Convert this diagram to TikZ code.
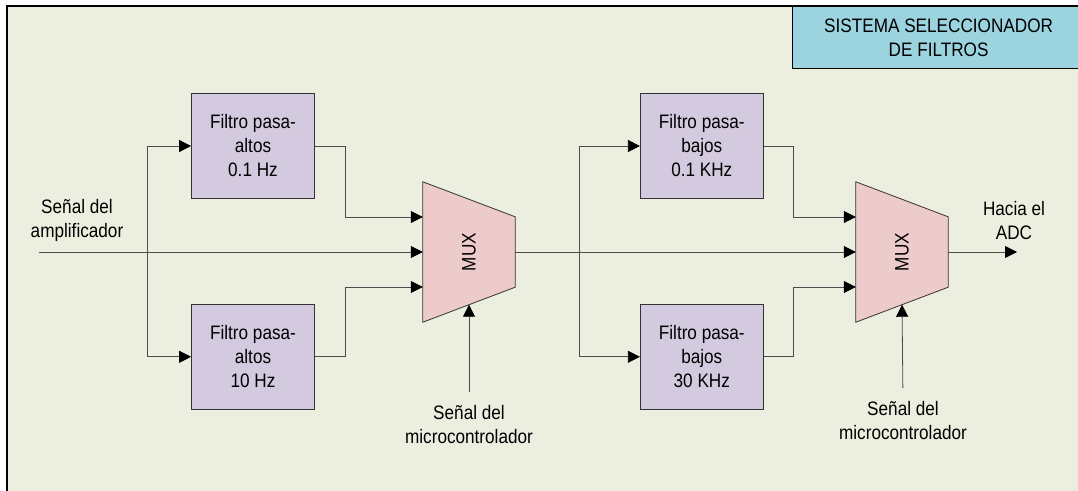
\documentclass[tikz,border=0pt]{standalone}
\usepackage{fontspec}
\setmainfont{Liberation Sans}[FakeStretch=0.88]
\usetikzlibrary{arrows.meta,positioning,calc,backgrounds}

\definecolor{fondo}{HTML}{ECEFDF}
\definecolor{lila}{HTML}{D4CADF}
\definecolor{rosa}{HTML}{EDCBCB}
\definecolor{celeste}{HTML}{9BD3DF}

\begin{document}
\begin{tikzpicture}[x=1pt,y=-1pt,
  font=\fontsize{19.5}{24}\selectfont,
  filtro/.style={draw=black!80,fill=lila,rectangle,minimum width=123pt,minimum height=105pt,align=center,inner sep=0pt,line width=0.8pt},
  mux/.style={rectangle,minimum width=92pt,minimum height=140pt,inner sep=0pt},
  muxforma/.style={draw=black!80,fill=rosa,line width=0.8pt},
  etiqueta/.style={align=center,inner sep=1pt},
  titulo/.style={draw=black,fill=celeste,line width=1.2pt,minimum width=292pt,minimum height=62pt,align=center,anchor=north west},
  linea/.style={draw=black!70,line width=0.8pt},
  flecha/.style={linea,-{Triangle[length=12pt,width=12pt,color=black]}}
]
\useasboundingbox (0,0) rectangle (1078,490);

% Titulo
\node[titulo] (titulo) at (792,6) {SISTEMA SELECCIONADOR\\DE FILTROS};

% Filtros pasa-altos
\node[filtro] (fa1) at (253,146) {Filtro pasa-\\altos\\0.1 Hz};
\node[filtro,below=105pt of fa1] (fa2) {Filtro pasa-\\altos\\10 Hz};

% Filtros pasa-bajos
\node[filtro,right=325pt of fa1] (fb1) {Filtro pasa-\\bajos\\0.1 KHz};
\node[filtro,below=105pt of fb1] (fb2) {Filtro pasa-\\bajos\\30 KHz};

% Multiplexores
\node[mux] (mux1) at (469,252) {\rotatebox{90}{MUX}};
\node[mux] (mux2) at (902,252) {\rotatebox{90}{MUX}};

% Etiquetas
\node[etiqueta] (amp) at (77,220) {Señal del\\amplificador};
\node[etiqueta] (adctxt) at (1014,221) {Hacia el\\ADC};
\node[etiqueta,anchor=north] (ctl1) at (469,404) {Señal del\\microcontrolador};
\node[etiqueta,anchor=north] (ctl2) at (903,400) {Señal del\\microcontrolador};

\coordinate (entrada) at (39,252);
\coordinate (r1) at (147,252);
\coordinate (r2) at (579,252);
\coordinate (adc) at (1017,252);

% Fondo, marco y trapecios
\begin{scope}[on background layer]
\fill[white] (0,0) rectangle (1078,490);
\fill[fondo] (7,6) rectangle (1090,500);
\draw[black,line width=2.5pt] (7,500) -- (7,6) -- (1090,6);
\draw[muxforma] (mux1.north west) -- ($(mux1.north east)+(0,35)$) -- ($(mux1.south east)+(0,-35)$) -- (mux1.south west) -- cycle;
\draw[muxforma] (mux2.north west) -- ($(mux2.north east)+(0,35)$) -- ($(mux2.south east)+(0,-35)$) -- (mux2.south west) -- cycle;
\end{scope}

% Primera etapa
\draw[flecha] (entrada) -- (mux1.west);
\draw[flecha] (r1) |- (fa1.west);
\draw[flecha] (r1) |- (fa2.west);
\draw[flecha] (fa1.east) -- ++(30,0) |- ($(mux1.west)+(0,-35)$);
\draw[flecha] (fa2.east) -- ++(30,0) |- ($(mux1.west)+(0,35)$);
\draw[flecha,shorten <=12pt] (ctl1.north) -- ($(mux1.south)+(0,-17.5)$);

% Segunda etapa
\draw[flecha] (mux1.east) -- (mux2.west);
\draw[flecha] (r2) |- (fb1.west);
\draw[flecha] (r2) |- (fb2.west);
\draw[flecha] (fb1.east) -- ++(30,0) |- ($(mux2.west)+(0,-35)$);
\draw[flecha] (fb2.east) -- ++(30,0) |- ($(mux2.west)+(0,35)$);
\draw[flecha,shorten <=12pt] (ctl2.north) -- ($(mux2.south)+(0,-17.5)$);
\draw[flecha] (mux2.east) -- (adc);

\end{tikzpicture}
\end{document}
